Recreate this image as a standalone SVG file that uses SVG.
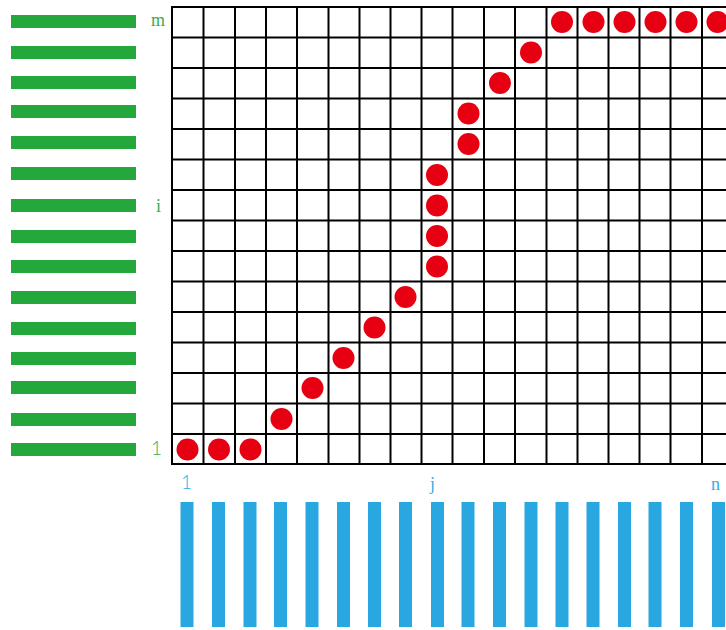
<svg xmlns="http://www.w3.org/2000/svg" width="726" height="630" viewBox="0 0 726 630">
<style>
.g{fill:#25a83b}
.b{fill:#29a7e0}
.grid line{stroke:#000;stroke-width:2}
.dot{fill:#e60012}
.lg{fill:#3aad4c;font-family:"Liberation Serif",serif;font-size:18px}
.lb{fill:#35ace2;font-family:"Liberation Serif",serif;font-size:18px}
.sans{font-family:Lato,"Liberation Sans",sans-serif;font-weight:300}
</style>
<rect width="726" height="630" fill="#fff"/>
<g id="rows">
<rect class="g" x="11" y="15" width="125" height="13"/>
<rect class="g" x="11" y="46" width="125" height="13"/>
<rect class="g" x="11" y="76" width="125" height="13"/>
<rect class="g" x="11" y="105" width="125" height="13"/>
<rect class="g" x="11" y="136" width="125" height="13"/>
<rect class="g" x="11" y="167" width="125" height="13"/>
<rect class="g" x="11" y="199" width="125" height="13"/>
<rect class="g" x="11" y="230" width="125" height="13"/>
<rect class="g" x="11" y="260" width="125" height="13"/>
<rect class="g" x="11" y="291" width="125" height="13"/>
<rect class="g" x="11" y="322" width="125" height="13"/>
<rect class="g" x="11" y="352" width="125" height="13"/>
<rect class="g" x="11" y="381" width="125" height="13"/>
<rect class="g" x="11" y="413" width="125" height="13"/>
<rect class="g" x="11" y="443" width="125" height="13"/>
<text class="lg" x="151" y="26">m</text>
<text class="lg" x="156" y="212">i</text>
<text class="lg sans" x="151" y="455" style="font-size:19px">1</text>
</g>
<g id="cols">
<rect class="b" x="180.5" y="502" width="13" height="125"/>
<rect class="b" x="212" y="502" width="13" height="125"/>
<rect class="b" x="243.5" y="502" width="13" height="125"/>
<rect class="b" x="274" y="502" width="13" height="125"/>
<rect class="b" x="305.5" y="502" width="13" height="125"/>
<rect class="b" x="337" y="502" width="13" height="125"/>
<rect class="b" x="368" y="502" width="13" height="125"/>
<rect class="b" x="399" y="502" width="13" height="125"/>
<rect class="b" x="431" y="502" width="13" height="125"/>
<rect class="b" x="461.5" y="502" width="13" height="125"/>
<rect class="b" x="493" y="502" width="13" height="125"/>
<rect class="b" x="524.5" y="502" width="13" height="125"/>
<rect class="b" x="555.5" y="502" width="13" height="125"/>
<rect class="b" x="586.5" y="502" width="13" height="125"/>
<rect class="b" x="618" y="502" width="13" height="125"/>
<rect class="b" x="648.5" y="502" width="13" height="125"/>
<rect class="b" x="680" y="502" width="13" height="125"/>
<rect class="b" x="712" y="502" width="13" height="125"/>
<text class="lb sans" x="181" y="489" style="font-size:19px">1</text>
<text class="lb" x="430" y="490">j</text>
<text class="lb" x="711" y="490">n</text>
</g>
<g id="grid" class="grid">
<line x1="171" y1="7" x2="726" y2="7"/>
<line x1="171" y1="37.5" x2="726" y2="37.5"/>
<line x1="171" y1="68" x2="726" y2="68"/>
<line x1="171" y1="98.5" x2="726" y2="98.5"/>
<line x1="171" y1="129" x2="726" y2="129"/>
<line x1="171" y1="159.5" x2="726" y2="159.5"/>
<line x1="171" y1="190" x2="726" y2="190"/>
<line x1="171" y1="220.5" x2="726" y2="220.5"/>
<line x1="171" y1="251" x2="726" y2="251"/>
<line x1="171" y1="281.5" x2="726" y2="281.5"/>
<line x1="171" y1="312" x2="726" y2="312"/>
<line x1="171" y1="342.5" x2="726" y2="342.5"/>
<line x1="171" y1="373" x2="726" y2="373"/>
<line x1="171" y1="403.5" x2="726" y2="403.5"/>
<line x1="171" y1="434" x2="726" y2="434"/>
<line x1="171" y1="464" x2="726" y2="464"/>
<line x1="172" y1="6" x2="172" y2="465"/>
<line x1="203.5" y1="6" x2="203.5" y2="465"/>
<line x1="235" y1="6" x2="235" y2="465"/>
<line x1="266" y1="6" x2="266" y2="465"/>
<line x1="297" y1="6" x2="297" y2="465"/>
<line x1="328.5" y1="6" x2="328.5" y2="465"/>
<line x1="359.5" y1="6" x2="359.5" y2="465"/>
<line x1="390.5" y1="6" x2="390.5" y2="465"/>
<line x1="421.5" y1="6" x2="421.5" y2="465"/>
<line x1="452.5" y1="6" x2="452.5" y2="465"/>
<line x1="484" y1="6" x2="484" y2="465"/>
<line x1="515" y1="6" x2="515" y2="465"/>
<line x1="546.5" y1="6" x2="546.5" y2="465"/>
<line x1="577.5" y1="6" x2="577.5" y2="465"/>
<line x1="608.5" y1="6" x2="608.5" y2="465"/>
<line x1="639.5" y1="6" x2="639.5" y2="465"/>
<line x1="670.5" y1="6" x2="670.5" y2="465"/>
<line x1="702" y1="6" x2="702" y2="465"/>
</g>
<g id="path">
<circle class="dot" cx="187.5" cy="449.5" r="11"/>
<circle class="dot" cx="219" cy="449.5" r="11"/>
<circle class="dot" cx="250.5" cy="449.5" r="11"/>
<circle class="dot" cx="281.5" cy="419" r="11"/>
<circle class="dot" cx="312.5" cy="388" r="11"/>
<circle class="dot" cx="343.5" cy="358" r="11"/>
<circle class="dot" cx="374.5" cy="327.5" r="11"/>
<circle class="dot" cx="405.5" cy="297" r="11"/>
<circle class="dot" cx="437" cy="266.5" r="11"/>
<circle class="dot" cx="437" cy="236" r="11"/>
<circle class="dot" cx="437" cy="205.5" r="11"/>
<circle class="dot" cx="437" cy="175" r="11"/>
<circle class="dot" cx="468.5" cy="144" r="11"/>
<circle class="dot" cx="468.5" cy="113.5" r="11"/>
<circle class="dot" cx="500" cy="83" r="11"/>
<circle class="dot" cx="531" cy="52.5" r="11"/>
<circle class="dot" cx="562" cy="22" r="11"/>
<circle class="dot" cx="593.5" cy="22" r="11"/>
<circle class="dot" cx="624.5" cy="22" r="11"/>
<circle class="dot" cx="655.5" cy="22" r="11"/>
<circle class="dot" cx="686.5" cy="22" r="11"/>
<circle class="dot" cx="717.5" cy="22" r="11"/>
</g>
</svg>
